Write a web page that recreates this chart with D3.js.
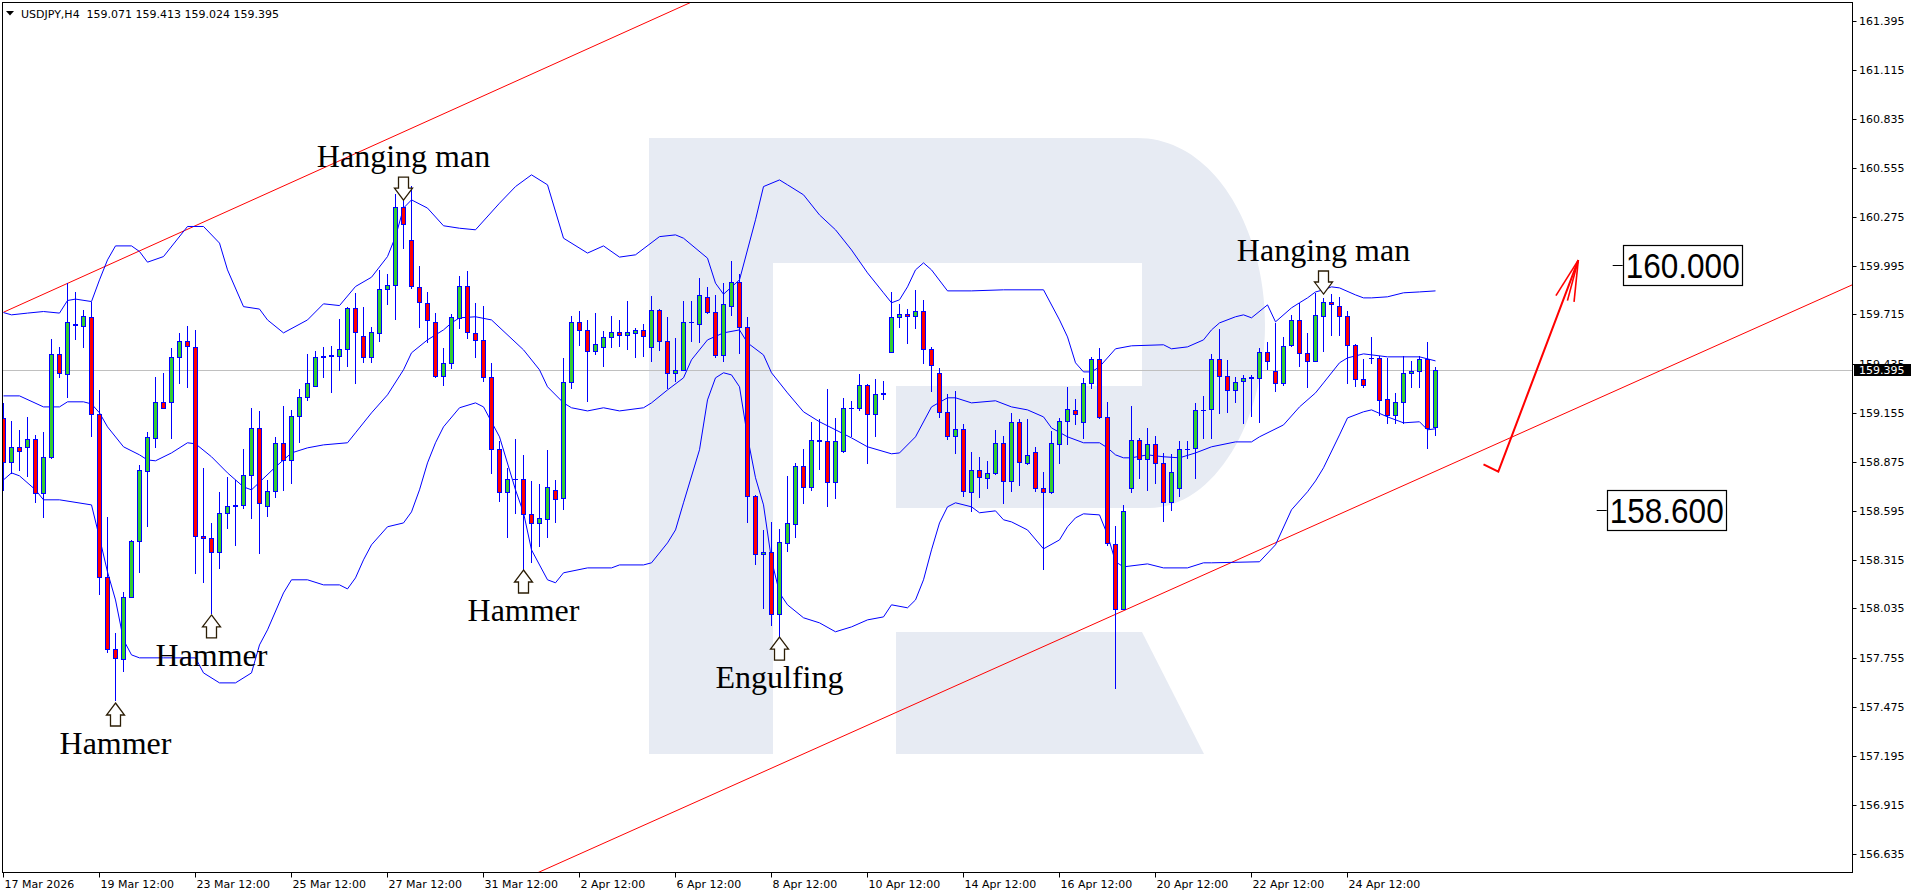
<!DOCTYPE html>
<html><head><meta charset="utf-8">
<script src="https://cdn.jsdelivr.net/npm/d3@7"></script>
<style>html,body{margin:0;padding:0;background:#fff;overflow:hidden}svg{display:block}</style>
</head><body>
<script>
// ---------------- DATA ----------------
const headerText = "USDJPY,H4  159.071 159.413 159.024 159.395";
const lastPrice = 159.395;

const opens = [159.123,158.871,158.960,158.957,159.003,158.694,158.903,159.488,159.374,159.656,
159.652,159.700,159.145,158.214,157.803,157.746,158.100,158.418,158.823,159.012,
159.214,159.214,159.475,159.564,159.532,158.450,158.437,158.357,158.580,158.623,
158.626,158.799,159.065,158.623,158.709,158.983,158.884,159.137,159.246,159.309,
159.471,159.480,159.480,159.517,159.751,159.594,159.475,159.612,159.860,159.882,
160.332,160.141,159.871,159.783,159.674,159.364,159.437,159.694,159.878,159.612,
159.570,159.357,158.945,158.700,158.776,158.774,158.574,158.523,158.545,158.713,
158.665,159.332,159.671,159.626,159.507,159.532,159.589,159.614,159.597,159.608,
159.626,159.532,159.740,159.564,159.380,159.397,159.671,159.661,159.817,159.728,
159.482,159.766,159.900,159.646,158.680,158.346,158.360,158.003,158.408,158.517,
158.850,158.728,158.994,158.993,158.757,158.937,159.180,159.180,159.313,159.147,
159.262,159.500,159.700,159.717,159.707,159.736,159.519,159.383,159.157,159.018,
159.060,158.703,158.827,158.783,158.808,158.980,158.766,159.100,158.869,158.928,
158.722,158.703,158.974,159.107,159.170,159.100,159.322,159.460,159.132,158.402,
158.031,158.722,158.998,158.888,158.974,158.869,158.646,158.722,158.947,158.951,
159.170,159.174,159.460,159.364,159.284,159.336,159.355,159.355,159.500,159.394,
159.322,159.541,159.684,159.494,159.450,159.707,159.785,159.766,159.709,159.541,
159.347,159.469,159.469,159.231,159.141,159.217,159.380,159.394,159.461,159.071];

const highs = [159.208,159.107,159.056,159.132,159.027,159.043,159.576,159.532,159.894,159.843,
159.742,159.789,159.284,158.555,157.894,158.132,158.427,158.856,159.046,159.360,
159.383,159.523,159.608,159.650,159.627,158.837,158.523,158.700,158.789,158.770,
158.947,159.183,159.164,158.770,159.014,159.193,159.170,159.290,159.490,159.509,
159.532,159.537,159.688,159.760,159.837,159.760,159.643,159.970,159.947,160.403,
160.389,160.450,159.993,159.846,159.723,159.523,159.718,159.936,159.966,159.780,
159.764,159.437,158.993,158.837,159.004,158.913,158.764,158.746,158.941,158.770,
159.469,159.707,159.736,159.684,159.726,159.622,159.707,159.684,159.793,159.640,
159.661,159.822,159.745,159.703,159.583,159.794,159.794,159.923,159.874,159.827,
159.894,160.021,159.947,159.700,158.685,158.484,158.532,158.490,158.793,158.869,
158.947,159.101,159.117,159.290,159.126,159.237,159.222,159.376,159.318,159.347,
159.336,159.846,159.776,159.747,159.856,159.799,159.528,159.412,159.260,159.278,
159.088,158.932,158.903,158.880,159.056,159.023,159.151,159.118,159.118,158.960,
158.817,159.050,159.126,159.303,159.233,159.354,159.475,159.523,159.217,158.507,
158.627,159.193,159.008,159.065,159.021,158.926,158.917,158.994,158.993,159.208,
159.250,159.490,159.631,159.456,159.360,159.370,159.370,159.526,159.560,159.669,
159.585,159.713,159.780,159.608,159.837,159.808,159.833,159.814,159.737,159.545,
159.460,159.585,159.479,159.469,159.269,159.479,159.452,159.479,159.555,159.413];

const lows = [158.713,158.812,158.827,158.793,158.646,158.560,158.894,159.360,159.246,159.576,
159.532,159.023,158.117,157.789,157.513,157.680,158.100,158.246,158.507,158.960,
159.180,159.008,159.322,159.300,158.237,158.189,158.012,158.266,158.494,158.399,
158.608,158.551,158.354,158.566,158.674,158.713,158.755,158.989,159.227,159.307,
159.360,159.274,159.398,159.418,159.326,159.446,159.446,159.566,159.776,159.690,
160.097,159.865,159.643,159.560,159.360,159.313,159.408,159.637,159.580,159.475,
159.337,158.812,158.652,158.443,158.580,158.256,158.298,158.394,158.443,158.532,
158.602,159.294,159.542,159.223,159.488,159.423,159.528,159.537,159.519,159.475,
159.479,159.452,159.513,159.294,159.336,159.395,159.566,159.560,159.723,159.471,
159.452,159.713,159.497,158.532,158.288,158.040,157.938,157.818,158.366,158.443,
158.637,158.713,158.831,158.623,158.669,158.932,159.018,159.170,158.869,159.023,
159.231,159.500,159.646,159.551,159.637,159.440,159.280,159.132,159.004,158.926,
158.680,158.593,158.674,158.726,158.804,158.637,158.707,158.741,158.861,158.707,
158.260,158.697,158.869,158.976,159.088,159.012,159.294,159.126,158.399,157.580,
158.031,158.700,158.783,158.713,158.751,158.537,158.598,158.680,158.897,158.783,
159.008,159.008,159.154,159.160,159.217,159.094,159.137,159.103,159.403,159.280,
159.313,159.536,159.421,159.303,159.450,159.509,159.598,159.598,159.326,159.309,
159.300,159.440,159.141,159.097,159.097,159.097,159.303,159.303,158.951,159.024];

const closes = [158.874,158.960,158.934,159.003,158.694,158.903,159.488,159.380,159.671,159.660,
159.706,159.145,158.214,157.803,157.751,158.100,158.418,158.827,159.014,159.214,
159.183,159.475,159.564,159.537,158.450,158.437,158.357,158.580,158.620,158.625,
158.797,159.065,158.637,158.709,158.983,158.884,159.137,159.246,159.326,159.471,
159.480,159.482,159.517,159.751,159.617,159.475,159.617,159.860,159.882,160.328,
160.233,159.878,159.785,159.684,159.364,159.437,159.700,159.878,159.614,159.570,
159.357,158.945,158.700,158.777,158.774,158.574,158.523,158.551,158.732,158.660,
159.332,159.671,159.627,159.507,159.545,159.589,159.614,159.597,159.614,159.626,
159.594,159.740,159.562,159.380,159.397,159.671,159.673,159.827,159.728,159.482,
159.774,159.900,159.646,158.680,158.347,158.360,158.003,158.414,158.523,158.850,
158.728,158.998,158.996,158.757,158.993,159.180,159.178,159.313,159.147,159.262,
159.264,159.700,159.717,159.707,159.736,159.519,159.427,159.157,159.018,159.060,
158.707,158.827,158.789,158.808,158.980,158.766,159.100,158.874,158.911,158.722,
158.703,158.980,159.107,159.174,159.145,159.322,159.460,159.132,158.408,158.031,
158.594,158.998,158.888,158.974,158.869,158.646,158.814,158.945,158.949,159.170,
159.172,159.460,159.364,159.284,159.332,159.351,159.357,159.500,159.450,159.322,
159.537,159.684,159.494,159.450,159.711,159.785,159.776,159.709,159.541,159.347,
159.313,159.467,159.227,159.141,159.217,159.380,159.394,159.461,159.069,159.395];

// Bollinger bands: [bar index, price]
const upperBand = [[0,159.726],[1,159.713],[3,159.723],[5,159.732],[7,159.723],[8,159.795],[9,159.803],[11,159.789],[12,159.913],[13,160.027],[14,160.107],[16,160.107],[17,160.075],[18,160.014],[20,160.046],[23,160.218],[25,160.218],[27,160.123],[28,159.970],[30,159.760],[32,159.746],[33,159.684],[35,159.610],[38,159.684],[40,159.776],[42,159.766],[44,159.875],[46,159.928],[48,160.046],[49,160.160],[50,160.323],[51,160.370],[53,160.323],[55,160.222],[57,160.208],[59,160.199],[62,160.351],[64,160.446],[66,160.513],[68,160.456],[70,160.151],[73,160.066],[75,160.107],[77,160.043],[79,160.056],[82,160.160],[84,160.170],[85,160.151],[88,160.037],[89,159.894],[90,159.831],[92,159.913],[94,160.256],[95,160.446],[97,160.484],[98,160.456],[100,160.399],[102,160.284],[104,160.199],[106,160.084],[108,159.953],[110,159.839],[111,159.782],[112,159.799],[113,159.873],[114,159.970],[115,160.010],[116,159.970],[118,159.850],[121,159.850],[125,159.856],[130,159.856],[132,159.684],[133,159.587],[134,159.439],[135,159.387],[136,159.387],[137,159.416],[139,159.519],[141,159.536],[145,159.542],[146,159.519],[148,159.530],[150,159.570],[151,159.627],[152,159.667],[154,159.702],[155,159.713],[156,159.696],[158,159.770],[159,159.673],[161,159.753],[162,159.782],[163,159.810],[164,159.844],[165,159.856],[166,159.873],[167,159.867],[169,159.827],[170,159.810],[171,159.810],[173,159.816],[175,159.839],[177,159.844],[179,159.850]];

const middleBand = [[0,159.250],[2,159.250],[5,159.187],[7,159.187],[8,159.216],[10,159.216],[11,159.204],[12,159.153],[13,159.073],[15,158.959],[17,158.913],[18,158.884],[19,158.879],[21,158.924],[23,158.982],[24,158.976],[26,158.902],[28,158.810],[30,158.730],[31,158.713],[34,158.844],[36,158.924],[38,158.953],[40,158.970],[43,158.982],[44,159.039],[46,159.153],[48,159.256],[50,159.399],[51,159.496],[53,159.570],[55,159.627],[56,159.667],[57,159.696],[59,159.702],[61,159.684],[65,159.513],[67,159.399],[68,159.302],[70,159.210],[71,159.182],[73,159.164],[75,159.182],[77,159.164],[80,159.182],[81,159.210],[83,159.284],[85,159.353],[86,159.456],[88,159.570],[90,159.610],[92,159.627],[93,159.553],[95,159.484],[96,159.382],[98,159.267],[100,159.159],[102,159.102],[104,159.056],[106,159.010],[108,158.959],[111,158.919],[112,158.924],[114,159.016],[116,159.187],[118,159.239],[119,159.239],[121,159.210],[124,159.222],[126,159.187],[128,159.170],[130,159.130],[131,159.067],[133,159.016],[135,158.982],[137,158.982],[138,158.953],[139,158.913],[140,158.896],[141,158.896],[143,158.913],[145,158.902],[147,158.896],[149,158.924],[151,158.959],[154,158.987],[156,158.987],[157,159.016],[160,159.084],[162,159.187],[164,159.267],[165,159.324],[167,159.439],[168,159.467],[170,159.490],[173,159.473],[177,159.473],[179,159.450]];

const lowerBand = [[0,158.770],[1,158.810],[2,158.793],[4,158.713],[5,158.656],[7,158.656],[11,158.627],[12,158.439],[13,158.244],[14,158.084],[15,157.856],[16,157.770],[17,157.753],[20,157.753],[24,157.753],[25,157.667],[27,157.610],[29,157.610],[31,157.667],[32,157.827],[33,157.913],[35,158.124],[36,158.199],[38,158.199],[40,158.170],[42,158.170],[43,158.147],[44,158.210],[45,158.313],[46,158.399],[48,158.502],[50,158.524],[51,158.587],[52,158.713],[53,158.867],[54,158.982],[55,159.073],[57,159.182],[59,159.210],[60,159.187],[62,159.016],[64,158.713],[65,158.582],[66,158.370],[68,158.199],[69,158.182],[70,158.239],[73,158.267],[76,158.267],[77,158.284],[80,158.284],[81,158.296],[83,158.410],[84,158.484],[85,158.639],[87,158.942],[88,159.227],[89,159.353],[90,159.382],[91,159.370],[92,159.302],[93,159.016],[94,158.782],[95,158.627],[96,158.313],[97,158.124],[98,158.056],[100,157.982],[102,157.953],[104,157.902],[106,157.930],[108,157.970],[110,157.987],[111,158.056],[113,158.039],[114,158.084],[115,158.199],[116,158.370],[117,158.524],[118,158.616],[119,158.639],[121,158.616],[122,158.582],[124,158.593],[125,158.542],[126,158.530],[128,158.484],[130,158.376],[132,158.427],[133,158.502],[134,158.553],[135,158.576],[137,158.570],[138,158.456],[139,158.302],[140,158.273],[143,158.290],[145,158.267],[148,158.267],[150,158.296],[151,158.296],[157,158.302],[159,158.399],[161,158.599],[163,158.702],[164,158.764],[165,158.839],[167,159.027],[168,159.124],[170,159.159],[171,159.170],[173,159.130],[175,159.096],[177,159.102],[178,159.056],[179,159.062]];

// time axis
const xLabelIdx = [0,12,24,36,48,60,72,84,96,108,120,132,144,156,168];
const xLabels = ["17 Mar 2026","19 Mar 12:00","23 Mar 12:00","25 Mar 12:00","27 Mar 12:00","31 Mar 12:00","2 Apr 12:00","6 Apr 12:00","8 Apr 12:00","10 Apr 12:00","14 Apr 12:00","16 Apr 12:00","20 Apr 12:00","22 Apr 12:00","24 Apr 12:00"];
// price axis
const yTicks = [161.395,161.115,160.835,160.555,160.275,159.995,159.715,159.435,159.155,158.875,158.595,158.315,158.035,157.755,157.475,157.195,156.915,156.635];

// trend channel anchors [bar index, price]
const trendUpper = [[0,159.728],[100,161.789]];
const trendLower = [[0,155.160],[232,159.903]];

// candlestick pattern marks
const patterns = [
  {label:"Hammer", i:14, price:157.495, dir:"up"},
  {label:"Hammer", i:26, price:157.998, dir:"up"},
  {label:"Hammer", i:65, price:158.255, dir:"up"},
  {label:"Engulfing", i:97, price:157.872, dir:"up"},
  {label:"Hanging man", i:50, price:160.369, dir:"down"},
  {label:"Hanging man", i:165, price:159.832, dir:"down"}
];

// forecast arrow and target levels
const forecast = [[185.0,158.859],[186.85,158.817],[196.85,160.026]];
const levels = [
  {label:"160.000", price:160.000, i:201.15},
  {label:"158.600", price:158.600, i:199.15}
];

// ---------------- DRAW ----------------
const W = 1916, H = 896;
const P = {left:2.5, top:2.5, right:1852.5, bottom:872.5};

const x = d3.scaleLinear().domain([0, 229]).range([3.5, 3.5 + 8*229]);
const y = d3.scaleLinear().domain([161.395, 156.635]).range([20.5, 853.5]);
const ry = v => Math.round(y(v)) + 0.5;

const svg = d3.select("body").append("svg").attr("width", W).attr("height", H)
  .style("font-family", "'DejaVu Sans', Tahoma, sans-serif");

svg.append("rect").attr("width", W).attr("height", H).attr("fill", "#fff");

const defs = svg.append("defs");
defs.append("clipPath").attr("id", "plotClip").append("rect")
  .attr("x", P.left + 0.5).attr("y", P.top + 0.5)
  .attr("width", P.right - P.left - 1).attr("height", P.bottom - P.top - 1);

// watermark logo (decoration)
const wm = svg.append("g").attr("fill", "#e7ebf3");
wm.append("path").attr("d",
  "M649,138 H1137 C1215,138 1265,230 1265,325 C1265,420 1215,508 1149,508 H896 V386 H1142 V263 H773 V754 H649 Z");
wm.append("path").attr("d", "M896,632 H1142 L1204,754 H896 Z");

const plot = svg.append("g").attr("clip-path", "url(#plotClip)");

// current price line
plot.append("line")
  .attr("x1", P.left).attr("x2", P.right)
  .attr("y1", ry(lastPrice)).attr("y2", ry(lastPrice))
  .attr("stroke", "#c0c0c0").attr("stroke-width", 1);

// trend lines
const tline = d3.line().x(d => x(d[0])).y(d => y(d[1]));
[trendUpper, trendLower].forEach(t => {
  plot.append("path").attr("d", tline(t)).attr("fill", "none")
    .attr("stroke", "#ff0000").attr("stroke-width", 1);
});

// Bollinger bands
const bline = d3.line().x(d => x(d[0])).y(d => y(d[1]));
[upperBand, middleBand, lowerBand].forEach(b => {
  plot.append("path").attr("d", bline(b)).attr("fill", "none")
    .attr("stroke", "#0000ff").attr("stroke-width", 1);
});

// candles
const candles = d3.range(opens.length).map(i => ({i, o:opens[i], h:highs[i], l:lows[i], c:closes[i]}));
const cg = plot.append("g").attr("shape-rendering", "crispEdges");
cg.selectAll("line.wick").data(candles).join("line").attr("class", "wick")
  .attr("x1", d => x(d.i)).attr("x2", d => x(d.i))
  .attr("y1", d => Math.round(y(Math.max(d.h, d.o, d.c))))
  .attr("y2", d => Math.round(y(Math.min(d.l, d.o, d.c))) + 1)
  .attr("stroke", "#0000ff").attr("stroke-width", 1);

candles.forEach(d => {
  const t = Math.round(y(Math.max(d.o, d.c)));
  const b = Math.round(y(Math.min(d.o, d.c)));
  const cx = x(d.i);
  if (b - t < 1) {
    cg.append("line").attr("x1", cx - 2.5).attr("x2", cx + 2.5)
      .attr("y1", t + 0.5).attr("y2", t + 0.5)
      .attr("stroke", "#0000ff").attr("stroke-width", 1);
  } else {
    cg.append("rect").attr("x", cx - 2).attr("width", 4)
      .attr("y", t + 0.5).attr("height", b - t)
      .attr("fill", d.c > d.o ? "#32cd32" : "#ff0000")
      .attr("stroke", "#0000ff").attr("stroke-width", 1);
  }
});

// pattern labels
const upArrow = "M0,0 L9,12 L5,12 L5,23 L-5,23 L-5,12 L-9,12 Z";
const downArrow = "M0,0 L9,-12 L5,-12 L5,-23 L-5,-23 L-5,-12 L-9,-12 Z";
patterns.forEach(p => {
  const px = x(p.i), py = y(p.price);
  svg.append("path").attr("d", p.dir === "up" ? upArrow : downArrow)
    .attr("transform", `translate(${px},${py})`)
    .attr("fill", "#fff").attr("stroke", "#2b1d05").attr("stroke-width", 1.3)
    .attr("stroke-linejoin", "miter");
  svg.append("text").attr("x", px).attr("y", p.dir === "up" ? py + 51 : py - 33)
    .attr("text-anchor", "middle")
    .style("font-family", "'Liberation Serif', 'Times New Roman', serif")
    .style("font-size", "32px").attr("fill", "#000").text(p.label);
});

// forecast arrow
const fpts = forecast.map(d => [x(d[0]), y(d[1])]);
svg.append("path").attr("d", d3.line()(fpts)).attr("fill", "none")
  .attr("stroke", "#ff0000").attr("stroke-width", 2).attr("stroke-linejoin", "miter");
{
  const [x1, y1] = fpts[fpts.length - 2], [x2, y2] = fpts[fpts.length - 1];
  const ang = Math.atan2(y1 - y2, x1 - x2);
  const len = 42;
  [-0.26, -0.1, 0.2].forEach(da => {
    svg.append("line").attr("x1", x2).attr("y1", y2)
      .attr("x2", x2 + len * Math.cos(ang + da)).attr("y2", y2 + len * Math.sin(ang + da))
      .attr("stroke", "#ff0000").attr("stroke-width", 1.6);
  });
}

// target level boxes
levels.forEach(l => {
  const lx = x(l.i), ly = Math.round(y(l.price)) + 0.5;
  svg.append("line").attr("x1", lx).attr("x2", lx + 10).attr("y1", ly).attr("y2", ly)
    .attr("stroke", "#000").attr("stroke-width", 1);
  svg.append("rect").attr("x", Math.round(lx + 10) + 0.5).attr("y", ly - 20)
    .attr("width", 119).attr("height", 40)
    .attr("fill", "#fff").attr("stroke", "#000").attr("stroke-width", 1.2);
  svg.append("text").attr("x", lx + 13).attr("y", ly + 12.5)
    .attr("textLength", 114).attr("lengthAdjust", "spacingAndGlyphs")
    .style("font-family", "'Liberation Sans', Arial, sans-serif")
    .style("font-size", "35px").attr("fill", "#000").text(l.label);
});

// frame
svg.append("rect").attr("x", P.left).attr("y", P.top)
  .attr("width", P.right - P.left).attr("height", P.bottom - P.top)
  .attr("fill", "none").attr("stroke", "#000").attr("stroke-width", 1);

// y axis (right)
const ya = svg.append("g");
yTicks.forEach(v => {
  const yy = ry(v);
  ya.append("line").attr("x1", P.right).attr("x2", P.right + 4).attr("y1", yy).attr("y2", yy)
    .attr("stroke", "#000");
  ya.append("text").attr("x", 1859).attr("y", yy).attr("dy", "0.36em")
    .style("font-size", "11px").attr("fill", "#000").text(v.toFixed(3));
});
// current price tag
ya.append("rect").attr("x", 1854).attr("y", ry(lastPrice) - 6.5).attr("width", 57).attr("height", 12)
  .attr("fill", "#000");
ya.append("text").attr("x", 1859).attr("y", ry(lastPrice)).attr("dy", "0.36em")
  .style("font-size", "11px").attr("fill", "#fff").text(lastPrice.toFixed(3));

// x axis (bottom)
const xa = svg.append("g");
xLabelIdx.forEach((idx, k) => {
  const xx = Math.round(x(idx)) - 0.5;
  xa.append("line").attr("x1", xx).attr("x2", xx).attr("y1", P.bottom).attr("y2", P.bottom + 5)
    .attr("stroke", "#000");
  xa.append("text").attr("x", xx + 1).attr("y", 888)
    .style("font-size", "11px").attr("fill", "#000").text(xLabels[k]);
});

// header
svg.append("path").attr("d", "M6,11 L14,11 L10,15.5 Z").attr("fill", "#000");
svg.append("text").attr("x", 21).attr("y", 17.5).attr("xml:space", "preserve")
  .style("white-space", "pre")
  .style("font-size", "11px").attr("fill", "#000").text(headerText);
</script>
</body></html>
